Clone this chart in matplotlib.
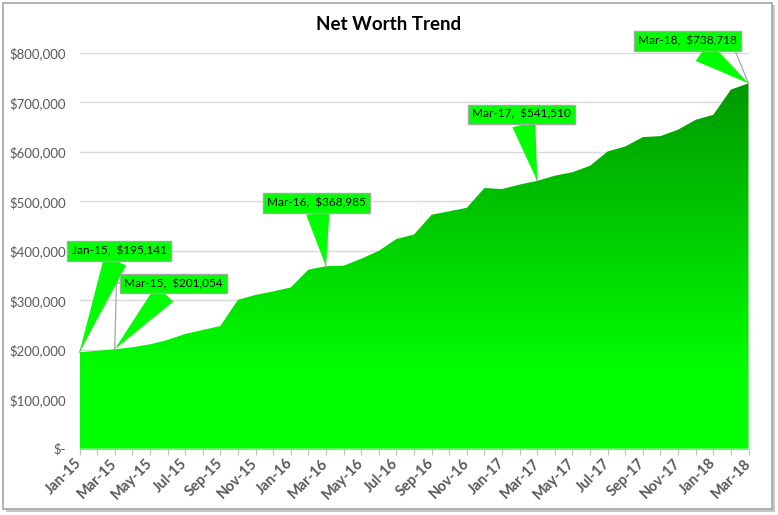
import matplotlib
matplotlib.use("Agg")
import matplotlib.pyplot as plt
import numpy as np
from matplotlib.colors import LinearSegmentedColormap
from matplotlib.patches import Rectangle
from matplotlib.ticker import FuncFormatter

# =========================
# DATA
# =========================
months = [
    "Jan-15", "Feb-15", "Mar-15", "Apr-15", "May-15", "Jun-15", "Jul-15", "Aug-15",
    "Sep-15", "Oct-15", "Nov-15", "Dec-15", "Jan-16", "Feb-16", "Mar-16", "Apr-16",
    "May-16", "Jun-16", "Jul-16", "Aug-16", "Sep-16", "Oct-16", "Nov-16", "Dec-16",
    "Jan-17", "Feb-17", "Mar-17", "Apr-17", "May-17", "Jun-17", "Jul-17", "Aug-17",
    "Sep-17", "Oct-17", "Nov-17", "Dec-17", "Jan-18", "Feb-18", "Mar-18",
]
net_worth = [
    195141, 198000, 201054, 205000, 211000, 220000, 232000, 240000,
    248000, 301000, 311000, 318000, 326000, 362000, 368985, 370000,
    384000, 400000, 424000, 433000, 473000, 480000, 487000, 527000,
    525000, 534000, 541510, 552000, 559000, 572000, 601000, 611000,
    630000, 632000, 645000, 665000, 675000, 726000, 738718,
]
y_ticks = [0, 100000, 200000, 300000, 400000, 500000, 600000, 700000, 800000]
labelled_months = ["Jan-15", "Mar-15", "Mar-16", "Mar-17", "Mar-18"]

# callout layout: month -> (box centre x, box centre y), leader line path
CALLOUTS = {
    "Jan-15": ((2.25, 400000), [(2.3, 378000)]),
    "Mar-15": ((5.35, 334000), [(2.45, 335000), (2.1, 335000)]),
    "Mar-16": ((13.45, 497000), [(13.5, 478000)]),
    "Mar-17": ((25.1, 676000), [(25.15, 657000)]),
    "Mar-18": ((34.55, 824000), [(36.5, 825000), (37.0, 825000)]),
}

GREEN = "#00FF00"
EDGE = "#A6A6A6"
TXT = "#595959"

plt.rcParams["font.family"] = ["Lato", "DejaVu Sans"]

W, H = 778, 515
fig = plt.figure(figsize=(W / 100, H / 100), dpi=100)

# chart frame + shadow
fig.patches.append(Rectangle((6 / W, 1 - 512 / H), 769 / W, 507 / H, transform=fig.transFigure,
                             fc="#C8C8C8", ec="none", zorder=-3))
fig.patches.append(Rectangle((3 / W, 1 - 509 / H), 769 / W, 506 / H, transform=fig.transFigure,
                             fc="white", ec=EDGE, lw=1.2, zorder=-2))

x0, x1, ytop, ybot = 79.5, 748.5, 53.0, 448.7
ax = fig.add_axes([x0 / W, 1 - ybot / H, (x1 - x0) / W, (ybot - ytop) / H])
ax.set_facecolor("none")

x = np.arange(len(months))
vals = np.array(net_worth)

# gradient-filled area (darker towards the top)
poly = ax.fill_between(x, 0, vals, facecolor="none", edgecolor="none")
grad = np.linspace(0, 1, 256).reshape(-1, 1)
grad = np.clip((grad * vals.max() - 150000) / (vals.max() - 150000), 0, 1)
im = ax.imshow(grad, extent=[0, len(months) - 1, 0, vals.max()], origin="lower",
               aspect="auto", cmap=LinearSegmentedColormap.from_list("g", ["#00FF00", "#009900"]),
               vmin=0, vmax=1, zorder=2, interpolation="bilinear")
im.set_clip_path(poly.get_paths()[0], transform=ax.transData)

ax.set_xlim(0, len(months) - 1)
ax.set_ylim(0, 800000)
ax.set_yticks(y_ticks)
ax.yaxis.set_major_formatter(FuncFormatter(lambda v, p: "$-" if v == 0 else f"${v:,.0f}"))
ax.grid(axis="y", color="#D9D9D9", lw=1, zorder=0)
ax.set_axisbelow(True)
for s in ["left", "right", "top"]:
    ax.spines[s].set_visible(False)
ax.spines["bottom"].set_color("#BFBFBF")
ax.spines["bottom"].set_zorder(3)
ax.tick_params(axis="y", length=0, pad=10, labelsize=9.5, labelcolor=TXT)
ax.set_xticks(x)
ax.set_xticklabels([m if i % 2 == 0 else "" for i, m in enumerate(months)],
                   rotation=45, ha="right", va="center", rotation_mode="anchor",
                   fontweight="bold", fontsize=10.5, color=TXT)
ax.tick_params(axis="x", length=4, color="#BFBFBF", pad=5)

fig.text(389 / W, 1 - 24 / H, "Net Worth Trend", ha="center", va="center",
         fontsize=13.5, fontweight="bold", color="black")

# callouts
for m in labelled_months:
    i = months.index(m)
    v = net_worth[i]
    (tx, ty), leader = CALLOUTS[m]
    lx, ly = zip(*(leader + [(i, v)]))
    ax.plot(lx, ly, color=EDGE, lw=0.9, zorder=4, clip_on=False)
    ax.annotate(f"{m},  ${v:,}", xy=(i, v), xytext=(tx, ty), textcoords="data",
                ha="center", va="center", fontsize=8.5, color="black", zorder=5,
                annotation_clip=False,
                bbox=dict(boxstyle="square,pad=0.35", fc=GREEN, ec=EDGE, lw=1),
                arrowprops=dict(arrowstyle="wedge,tail_width=2.0", fc=GREEN, ec="none",
                                shrinkA=0, shrinkB=0))

fig.savefig("out.png", dpi=100)
